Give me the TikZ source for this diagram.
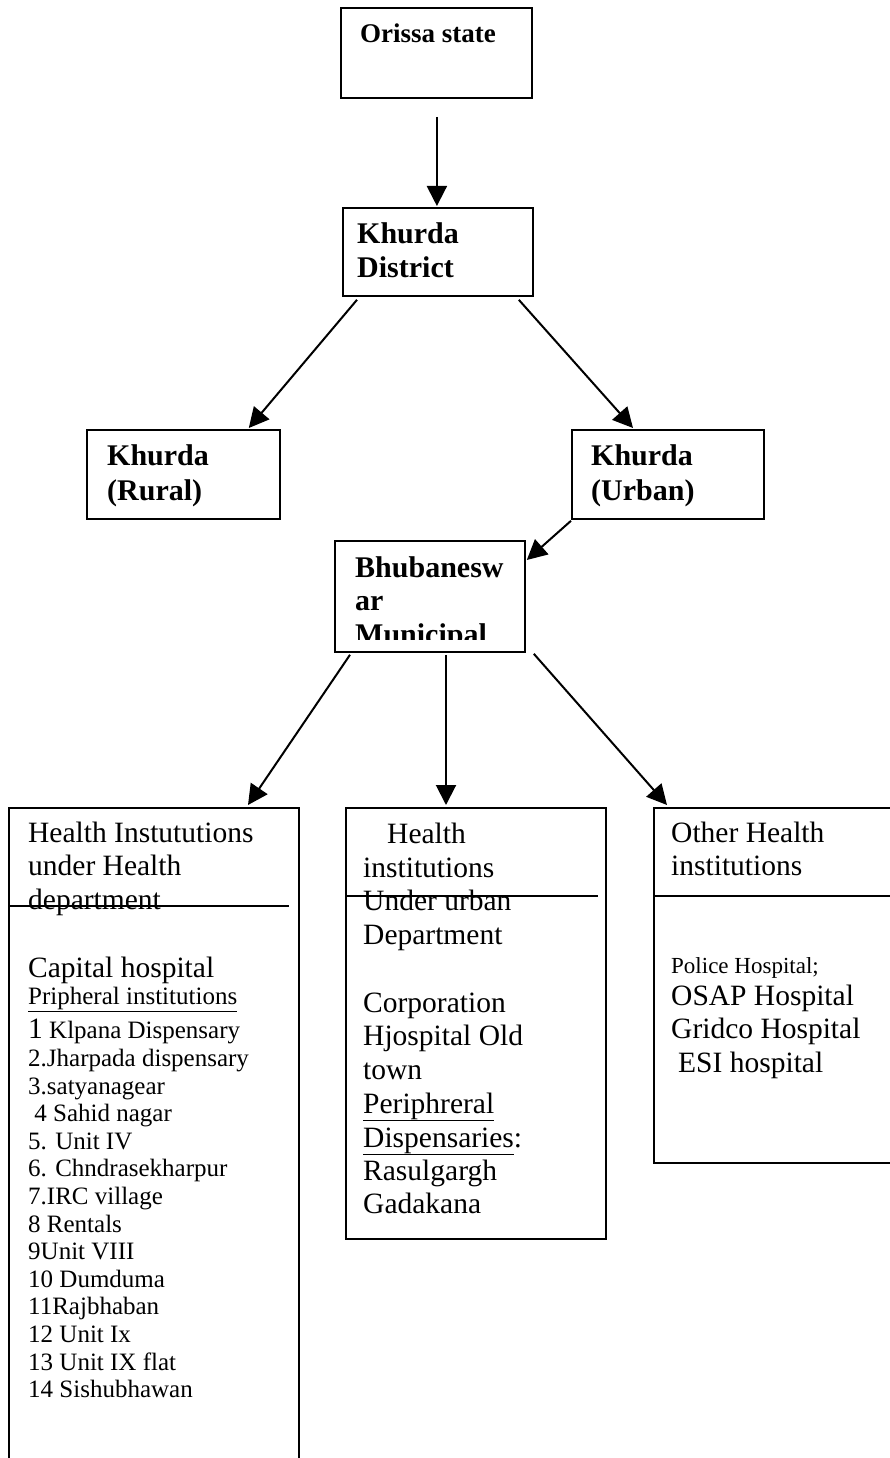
\documentclass[tikz,border=0pt]{standalone}
\usepackage{fontspec}
\setmainfont{Liberation Serif}
\usetikzlibrary{arrows.meta,calc}
% type sizes (1 unit = 1pt)
\newcommand{\headsize}{\fontsize{30}{34}\selectfont\bfseries}
\newcommand{\topsize}{\fontsize{27}{31}\selectfont\bfseries}
\newcommand{\bigsize}{\fontsize{29.5}{33}\selectfont}
\newcommand{\smallsize}{\fontsize{25}{28}\selectfont}
\newcommand{\policesize}{\fontsize{23}{27}\selectfont}

\begin{document}
\begin{tikzpicture}[x=1pt,y=-1pt,
  box/.style={draw, line width=1.8pt, inner sep=0pt, anchor=north west},
  arr/.style={line width=2pt, -{Triangle[length=20pt,width=20pt]}},
  divider/.style={line width=1.8pt},
  lbl/.style={anchor=base west, inner sep=0pt, font=\headsize},
  txt/.style={anchor=base west, inner sep=0pt, font=\bigsize},
  sml/.style={anchor=base west, inner sep=0pt, font=\smallsize}]
\clip (0,0) rectangle (890,1458);
\fill[white] (0,0) rectangle (890,1458);

% ---- boxes ----
\node[box, minimum width=191pt, minimum height=90pt]  (orissa) at (340,7) {};
\node[box, minimum width=190pt, minimum height=88pt]  (dist)   at (342,207) {};
\node[box, minimum width=193pt, minimum height=89pt]  (rural)  at (86,429) {};
\node[box, minimum width=192pt, minimum height=89pt]  (urban)  at (571,429) {};
\node[box, minimum width=190pt, minimum height=111pt] (bmc)    at (334,540) {};
\node[box, minimum width=290pt, minimum height=700pt] (hd)     at (8,807) {};
\node[box, minimum width=260pt, minimum height=431pt] (ud)     at (345,807) {};
\node[box, minimum width=260pt, minimum height=355pt] (oh)     at (653,807) {};

% ---- header dividers ----
\draw[divider] ($(hd.north west)+(0,99)$) -- ($(hd.north west)+(281,99)$);
\draw[divider] ($(ud.north west)+(0,89)$) -- ($(ud.north west)+(253,89)$);
\draw[divider] ($(oh.north west)+(0,89)$) -- ($(oh.north east)+(0,89)$);

% ---- connectors ----
\draw[arr] ($(orissa.south)+(0.5,18)$) -- ($(dist.north)+(-1,-1)$);
\draw[arr] ($(dist.south west)+(15,3)$) -- ($(rural.north east)+(-32,-1)$);
\draw[arr] ($(dist.south east)+(-15,3)$) -- ($(urban.north west)+(62,-1)$);
\draw[arr] ($(urban.south west)+(0,1)$) -- ($(bmc.north east)+(1,20)$);
\draw[arr] ($(bmc.south west)+(16,2)$) -- ($(hd.north west)+(240,-2)$);
\draw[arr] ($(bmc.south west)+(112,2)$) -- ($(ud.north west)+(101,-2)$);
\draw[arr] ($(bmc.south east)+(8,1)$) -- ($(oh.north west)+(14,-2)$);

% ---- upper labels ----
\node[lbl, font=\topsize] (t1) at (360,43) {Orissa state};
\node[lbl] (t2a) at (357,243) {Khurda};
\node[lbl] (t2b) at (357,277) {District};
\node[lbl] (t3a) at (107,465) {Khurda};
\node[lbl] (t3b) at (107,500) {(Rural)};
\node[lbl] (t4a) at (591,465) {Khurda};
\node[lbl] (t4b) at (591,500) {(Urban)};
\begin{scope}
  \clip (335,541) rectangle (523,639);
  \node[lbl] (t5a) at (355,577) {Bhubanesw};
  \node[lbl] (t5b) at (355,610) {ar};
  \node[lbl] (t5c) at (355,644) {Municipal};
\end{scope}

% ---- health department column ----
\node[txt] (h1) at (28,842) {Health Instututions};
\node[txt] (h2) at (28,875) {under Health};
\node[txt] (h3) at (28,909) {department};
\node[txt] (h4) at (28,977) {Capital hospital};
\node[sml] (h5) at (28,1004) {\underline{Pripheral institutions}};
\node[sml] (h6) at (28,1038) {{\bigsize 1} Klpana Dispensary};
\foreach \t [count=\i] in {2.Jharpada dispensary, 3.satyanagear, \ 4 Sahid nagar,
    5. Unit IV, 6. Chndrasekharpur, 7.IRC village, 8 Rentals, 9Unit VIII,
    10 Dumduma, 11Rajbhaban, 12 Unit Ix, 13 Unit IX flat, 14 Sishubhawan}
  \node[sml] (hl\i) at (28,1066.5+27.6*\i-27.6) {\t};

% ---- urban department column ----
\node[txt] (u1) at (387,843) {Health};
\node[txt] (u2) at (363,877) {institutions};
\node[txt] (u3) at (363,910) {Under urban};
\node[txt] (u4) at (363,944) {Department};
\node[txt] (u5) at (363,1012) {Corporation};
\node[txt] (u6) at (363,1045) {Hjospital Old};
\node[txt] (u7) at (363,1079) {town};
\node[txt] (u8) at (363,1113) {\underline{Periphreral}};
\node[txt] (u9) at (363,1147) {\underline{Dispensaries}:};
\node[txt] (u10) at (363,1180) {Rasulgargh};
\node[txt] (u11) at (363,1213) {Gadakana};

% ---- other institutions column ----
\node[txt] (o1) at (671,842) {Other Health};
\node[txt] (o2) at (671,875) {institutions};
\node[txt, font=\policesize] (o3) at (671,973) {Police Hospital;};
\node[txt] (o4) at (671,1005) {OSAP Hospital};
\node[txt] (o5) at (671,1038) {Gridco Hospital};
\node[txt] (o6) at (678,1072) {ESI hospital};
\end{tikzpicture}
\end{document}
